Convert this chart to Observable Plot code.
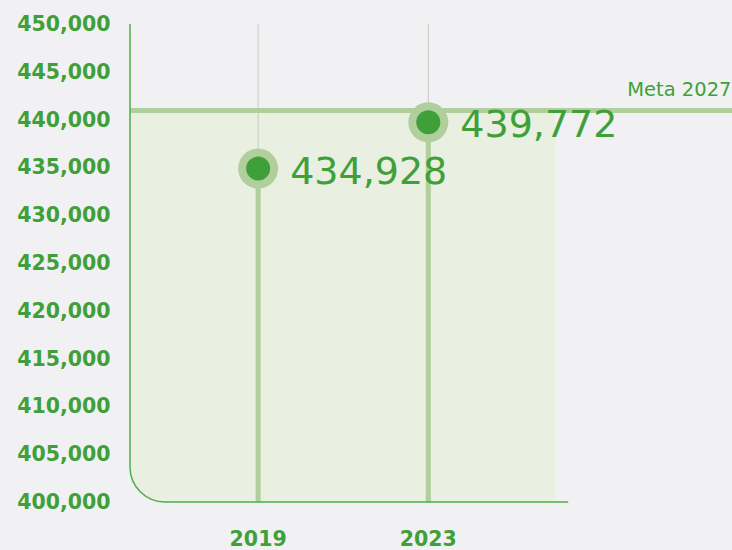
<!DOCTYPE html>
<html>
<head>
<meta charset="utf-8">
<script src="https://cdn.jsdelivr.net/npm/d3@7"></script>
<script src="https://cdn.jsdelivr.net/npm/@observablehq/plot@0.6"></script>
<style>
  html, body { margin: 0; padding: 0; background: #f1f1f3; }
  #chart svg { display: block; }
  #chart g[aria-label*="axis"] text {
    font-family: "DejaVu Sans", sans-serif;
    font-weight: bold;
    font-size: 20.5px;
    fill: #3fa03a;
  }
</style>
</head>
<body>
<div id="chart"></div>
<script>
// ---- data ----
const years = [2019, 2023];
const values = [434928, 439772];
const metaValue = 441000;
const metaLabel = "Meta 2027";
const yTicks = [400000, 405000, 410000, 415000, 420000, 425000, 430000, 435000, 440000, 445000, 450000];
const xTicks = [2019, 2023];
const xDomain = [2016, 2030.15];
const shadeEnd = 2026;
const axisEnd = 2026.3;
const yMin = 400000, yMax = 450000;

const data = years.map((year, i) => ({year, value: values[i]}));

const green = "#3fa03a";
const lightGreen = "#b0cf9c";
const shade = "#e9efe1";
const axisGreen = "#4caf45";
const thinGrey = "#c6cbc1";
const radius = 35;

// shaded region + L-shaped axis with rounded corner, positioned via Plot scales
function shadeMark(index, scales) {
  const {x, y} = scales;
  const x0 = x(xDomain[0]), x1 = x(shadeEnd), yT = y(metaValue), yB = y(yMin);
  const p = d3.create("svg:path")
    .attr("fill", shade)
    .attr("d", `M${x0},${yT}H${x1}V${yB}H${x0 + radius}A${radius},${radius} 0 0 1 ${x0},${yB - radius}Z`);
  return p.node();
}
function axisMark(index, scales) {
  const {x, y} = scales;
  const x0 = x(xDomain[0]), x1 = x(axisEnd), yT = y(yMax), yB = y(yMin);
  const p = d3.create("svg:path")
    .attr("fill", "none")
    .attr("stroke", axisGreen)
    .attr("stroke-width", 1.5)
    .attr("d", `M${x0},${yT}V${yB - radius}A${radius},${radius} 0 0 0 ${x0 + radius},${yB}H${x1}`);
  return p.node();
}

const chart = Plot.plot({
  width: 732,
  height: 550,
  marginLeft: 130,
  marginRight: 0,
  marginTop: 24,
  marginBottom: 48,
  style: {background: "transparent", color: green, fontFamily: "DejaVu Sans, sans-serif", overflow: "visible"},
  x: {domain: xDomain, ticks: xTicks, tickFormat: d => String(d), tickSize: 0, tickPadding: 29, label: null},
  y: {domain: [yMin, yMax], ticks: yTicks, tickFormat: d3.format(","), tickSize: 0, tickPadding: 20, label: null},
  marks: [
    shadeMark,
    Plot.ruleX(data, {x: "year", y1: yMax, y2: "value", stroke: thinGrey, strokeWidth: 1}),
    Plot.ruleY([metaValue], {x1: xDomain[0], x2: xDomain[1], stroke: lightGreen, strokeWidth: 5}),
    Plot.ruleX(data, {x: "year", y1: yMin, y2: "value", stroke: lightGreen, strokeWidth: 5}),
    axisMark,
    Plot.dot(data, {x: "year", y: "value", r: 20, fill: lightGreen, stroke: null}),
    Plot.dot(data, {x: "year", y: "value", r: 12, fill: green, stroke: null}),
    Plot.text(data, {x: "year", y: "value", text: d => d3.format(",")(d.value), textAnchor: "start", dx: 32, dy: 3, fontSize: 38, fill: green, fontFamily: "DejaVu Sans"}),
    Plot.text([metaLabel], {y: [metaValue], text: d => d, frameAnchor: "right", textAnchor: "end", dx: -1, dy: -21, fontSize: 19.5, fill: green, fontFamily: "DejaVu Sans"})
  ]
});
document.getElementById("chart").appendChild(chart);
</script>
</body>
</html>
